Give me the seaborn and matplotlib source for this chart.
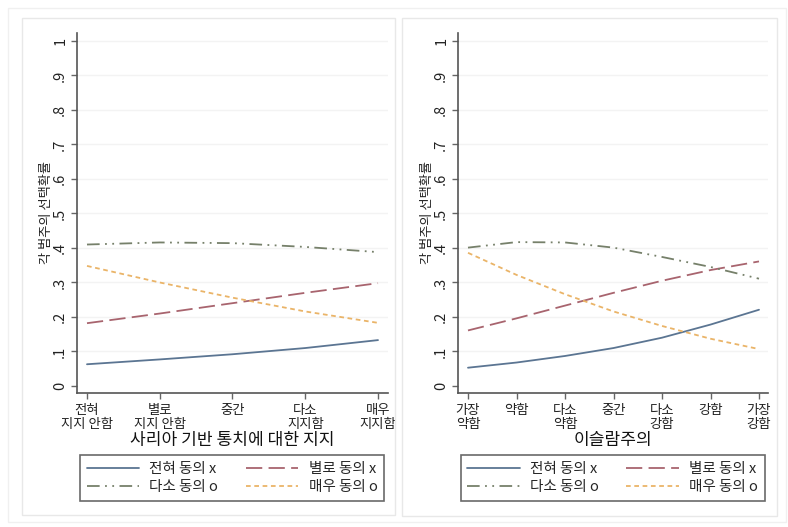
import matplotlib
matplotlib.use("Agg")
import matplotlib.pyplot as plt
import matplotlib.patches as mpatches
import seaborn as sns
import pandas as pd
import numpy as np

sns.set_theme(style="white")
plt.rcParams['font.family'] = ['Noto Sans CJK KR', 'DejaVu Sans']

series_names = ["전혀 동의 x", "별로 동의 x", "다소 동의 o", "매우 동의 o"]

# Left panel: 사리아 기반 통치에 대한 지지
left_ticks = ["전혀\n지지 안함", "별로\n지지 안함", "중간", "다소\n지지함", "매우\n지지함"]
left_x = [1, 2, 3, 4, 5]
left_s1 = [0.063, 0.077, 0.092, 0.110, 0.133]
left_s2 = [0.182, 0.210, 0.240, 0.270, 0.298]
left_s3 = [0.410, 0.416, 0.414, 0.403, 0.388]
left_s4 = [0.348, 0.300, 0.256, 0.216, 0.183]

# Right panel: 이슬람주의
right_ticks = ["가장\n약함", "약함", "다소\n약함", "중간", "다소\n강함", "강함", "가장\n강함"]
right_x = [1, 2, 3, 4, 5, 6, 7]
right_s1 = [0.053, 0.068, 0.087, 0.110, 0.140, 0.178, 0.221]
right_s2 = [0.161, 0.196, 0.233, 0.270, 0.305, 0.336, 0.361]
right_s3 = [0.401, 0.417, 0.416, 0.401, 0.374, 0.345, 0.311]
right_s4 = [0.386, 0.322, 0.266, 0.216, 0.174, 0.137, 0.107]

colors = {series_names[0]: "#5b7592", series_names[1]: "#a8646e",
          series_names[2]: "#76806a", series_names[3]: "#eab468"}
dashes = {series_names[0]: "",
          series_names[1]: (9, 3.5),
          series_names[2]: (7, 3, 1, 3, 1, 3),
          series_names[3]: (2.6, 2)}

W, H = 788, 527
fig = plt.figure(figsize=(W / 100, H / 100), dpi=100)

def px(x0, y0, x1, y1):
    return [x0 / W, 1 - y1 / H, (x1 - x0) / W, (y1 - y0) / H]

# panel frames
for (a, b, c, d) in [(22, 18, 395, 515), (402, 18, 777, 516)]:
    fig.patches.append(mpatches.Rectangle((a / W, 1 - d / H), (c - a) / W, (d - b) / H,
                                          transform=fig.transFigure, fill=False,
                                          edgecolor="#e8e8e8", lw=1))
fig.patches.append(mpatches.Rectangle((8 / W, 1 - 522 / H), (786 - 8) / W, (522 - 8) / H,
                                      transform=fig.transFigure, fill=False,
                                      edgecolor="#f0f0f0", lw=1))

def make_panel(rect, xs, ticks, s_list, xlabel, xlim, legend_center):
    ax = fig.add_axes(rect)
    frames = []
    for name, vals in zip(series_names, s_list):
        frames.append(pd.DataFrame({"x": xs, "y": vals, "series": name}))
    df = pd.concat(frames, ignore_index=True)
    for yv in np.arange(0.1, 1.01, 0.1):
        ax.axhline(yv, color="#f3f3f3", lw=1, zorder=0)
    sns.lineplot(data=df, x="x", y="y", hue="series", style="series",
                 palette=colors, dashes=dashes, hue_order=series_names,
                 style_order=series_names, lw=1.3, legend=False, ax=ax)
    ax.set_xlim(*xlim)
    ax.set_ylim(-0.0203, 1.023)
    ax.set_xticks(xs)
    ax.set_xticklabels(ticks, fontsize=9.6, color="#222222", linespacing=1.0)
    yt = np.round(np.arange(0, 1.01, 0.1), 1)
    ylabels = ["0"] + ["." + str(int(round(v * 10))) for v in yt[1:-1]] + ["1"]
    ax.set_yticks(yt)
    ax.set_yticklabels(ylabels, rotation=90, fontsize=10.5, color="#222222", va="center")
    ax.tick_params(axis="both", which="both", direction="out", length=4, width=1,
                   color="#666666", bottom=True, left=True, pad=3)
    for s in ["top", "right"]:
        ax.spines[s].set_visible(False)
    for s in ["left", "bottom"]:
        ax.spines[s].set_color("#555555")
        ax.spines[s].set_linewidth(1.2)
    ax.set_xlabel(xlabel, fontsize=12.3, color="#111111", labelpad=0)
    ax.set_ylabel("각 범주의 선택확률", fontsize=9.5, color="#222222", labelpad=0)
    ax.set_facecolor("white")
    lines = ax.get_lines()[-4:]
    handles = [lines[0], lines[2], lines[1], lines[3]]
    labels = [series_names[0], series_names[2], series_names[1], series_names[3]]
    cx, cy = legend_center
    leg = ax.legend(handles, labels, ncol=2, loc="center",
                    bbox_to_anchor=(cx / W, 1 - cy / H),
                    bbox_transform=fig.transFigure, fontsize=10.5, handlelength=3.6,
                    frameon=True, fancybox=False, borderpad=0.45, labelspacing=0.3,
                    handletextpad=0.7, columnspacing=1.9, borderaxespad=0)
    leg.get_frame().set_edgecolor("#444444")
    leg.get_frame().set_linewidth(1.2)
    return ax

make_panel(px(77, 33, 388, 393), left_x, left_ticks,
           [left_s1, left_s2, left_s3, left_s4], "사리아 기반 통치에 대한 지지",
           (1 - 10 / 72.75, 5 + 10 / 72.75), (232, 478))
make_panel(px(458, 33, 768, 393), right_x, right_ticks,
           [right_s1, right_s2, right_s3, right_s4], "이슬람주의",
           (1 - 10 / 48.5, 7 + 9 / 48.5), (612.5, 478))

fig.savefig("out.png", dpi=100, facecolor="white")
